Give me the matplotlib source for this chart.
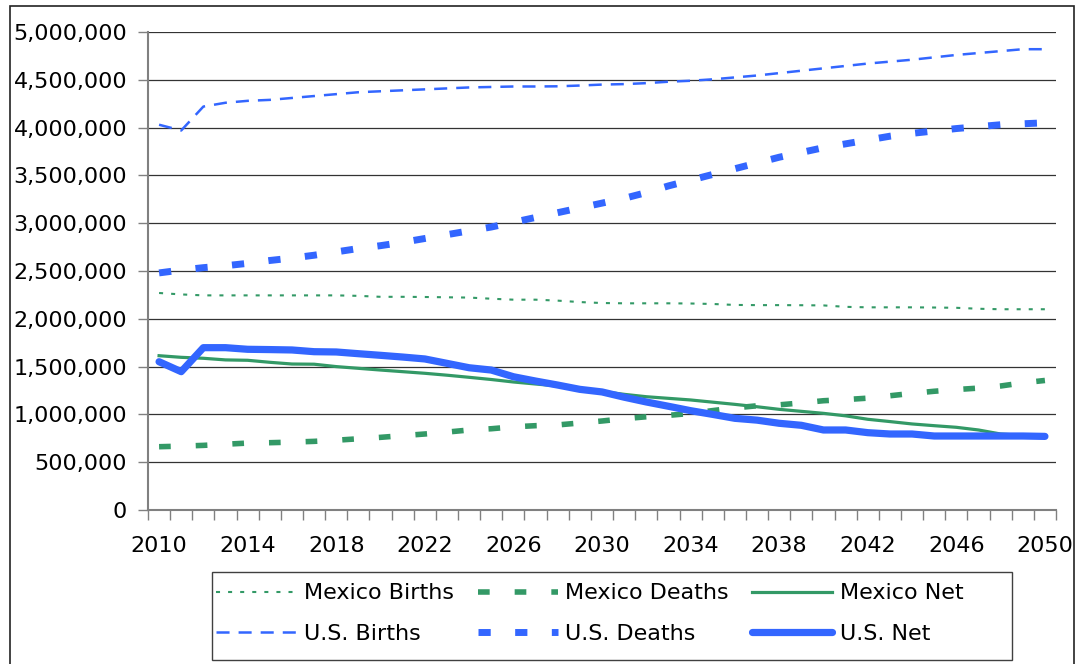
import matplotlib
matplotlib.use("Agg")
import matplotlib.pyplot as plt
from matplotlib.patches import Rectangle
from matplotlib.ticker import FuncFormatter, FixedLocator
import numpy as np

plt.rcParams['font.family'] = ['DejaVu Sans']
plt.rcParams['lines.scale_dashes'] = False

years = list(range(2010, 2051))

mexico_births = [2270000, 2255000, 2245000, 2245000, 2245000, 2245000, 2245000, 2245000,
                 2245000, 2240000, 2230000, 2230000, 2228000, 2225000, 2222000, 2210000,
                 2200000, 2200000, 2190000, 2175000, 2165000, 2162000, 2162000, 2162000,
                 2160000, 2155000, 2145000, 2143000, 2143000, 2142000, 2140000, 2125000,
                 2120000, 2120000, 2120000, 2118000, 2115000, 2105000, 2100000, 2100000,
                 2100000]
mexico_deaths = [662000, 668000, 676000, 688000, 700000, 704000, 710000, 718000,
                 730000, 745000, 760000, 778000, 795000, 815000, 837000, 850000,
                 870000, 882000, 890000, 910000, 931000, 955000, 975000, 990000,
                 1010000, 1040000, 1068000, 1090000, 1100000, 1120000, 1143000, 1155000,
                 1170000, 1195000, 1220000, 1242000, 1260000, 1275000, 1297000, 1330000,
                 1355000]
mexico_net = [1614000, 1597000, 1587000, 1570000, 1566000, 1545000, 1527000, 1525000,
              1500000, 1482000, 1464000, 1447000, 1430000, 1410000, 1388000, 1365000,
              1339000, 1318000, 1297000, 1270000, 1240000, 1210000, 1185000, 1168000,
              1151000, 1128000, 1105000, 1080000, 1053000, 1032000, 1011000, 985000,
              949000, 925000, 900000, 882000, 865000, 837000, 795000, 780000,
              767000]
us_births = [4030000, 3970000, 4220000, 4260000, 4280000, 4290000, 4310000, 4330000,
             4350000, 4370000, 4380000, 4390000, 4400000, 4410000, 4420000, 4425000,
             4430000, 4430000, 4432000, 4440000, 4450000, 4455000, 4465000, 4480000,
             4490000, 4505000, 4525000, 4545000, 4570000, 4595000, 4620000, 4645000,
             4670000, 4690000, 4710000, 4735000, 4760000, 4780000, 4800000, 4820000,
             4820000]
us_deaths = [2480000, 2510000, 2535000, 2555000, 2580000, 2610000, 2635000, 2665000,
             2700000, 2735000, 2765000, 2800000, 2840000, 2880000, 2920000, 2960000,
             3010000, 3060000, 3110000, 3160000, 3210000, 3260000, 3320000, 3390000,
             3450000, 3510000, 3570000, 3630000, 3690000, 3740000, 3790000, 3830000,
             3870000, 3910000, 3940000, 3965000, 3990000, 4010000, 4030000, 4040000,
             4050000]
us_net = [1551000, 1447000, 1698000, 1698000, 1681000, 1678000, 1674000, 1656000,
          1653000, 1635000, 1618000, 1600000, 1580000, 1534000, 1488000, 1464000,
          1394000, 1349000, 1307000, 1262000, 1235000, 1180000, 1130000, 1085000,
          1039000, 1000000, 959000, 940000, 907000, 886000, 837000, 837000,
          809000, 795000, 795000, 774000, 774000, 774000, 774000, 774000,
          770000]

green = "#339966"
blue = "#3366FF"

W, H = 1081, 664
fig = plt.figure(figsize=(W / 100, H / 100), dpi=100)
ax = fig.add_axes([148 / W, 1 - 510 / H, (1056 - 148) / W, (510 - 32) / H])

x = np.arange(len(years))

l_mb, = ax.plot(x, mexico_births, color=green, lw=1.5, dashes=(2.9, 5.8),
                dash_capstyle='butt', label="Mexico Births")
l_md, = ax.plot(x, mexico_deaths, color=green, lw=4.0, dashes=(8.4, 18.0),
                dash_capstyle='butt', label="Mexico Deaths")
l_mn, = ax.plot(x, mexico_net, color=green, lw=2.3, label="Mexico Net")
l_ub, = ax.plot(x, us_births, color=blue, lw=1.8, dashes=(9.4, 6.5),
                dash_capstyle='butt', label="U.S. Births")
l_ud, = ax.plot(x, us_deaths, color=blue, lw=5.0, dashes=(8.8, 17.6),
                dash_capstyle='butt', label="U.S. Deaths")
l_un, = ax.plot(x, us_net, color=blue, lw=5.2, solid_capstyle='round',
                solid_joinstyle='round', label="U.S. Net")

ax.set_xlim(-0.5, len(years) - 0.5)
ax.set_ylim(0, 5000000)

# y axis
ax.set_yticks(np.arange(0, 5000001, 500000))
ax.yaxis.set_major_formatter(FuncFormatter(lambda v, p: f"{int(v):,}"))
ax.tick_params(axis='y', length=7, width=1, color='#808080', pad=8, labelsize=16)
ax.yaxis.grid(True, color='#333333', lw=0.9)
ax.set_axisbelow(True)

# x axis: ticks between categories, labels every 4 years
ax.xaxis.set_major_locator(FixedLocator(np.arange(-0.5, len(years), 1.0)))
ax.xaxis.set_major_formatter(FuncFormatter(lambda v, p: ""))
ax.xaxis.set_minor_locator(FixedLocator(x[::4]))
ax.set_xticklabels([str(y) for y in years[::4]], minor=True)
ax.tick_params(axis='x', which='major', length=7, width=1, color='#808080')
ax.tick_params(axis='x', which='minor', length=0, pad=19, labelsize=16)

for side in ['top', 'right']:
    ax.spines[side].set_visible(False)
for side in ['left', 'bottom']:
    ax.spines[side].set_color('#808080')
    ax.spines[side].set_linewidth(1.5)

# legend, filled column by column; frame drawn separately
handles = [l_mb, l_ub, l_md, l_ud, l_mn, l_un]
leg = fig.legend(handles=handles, labels=[h.get_label() for h in handles],
                 ncol=3, loc='upper left',
                 bbox_to_anchor=(212 / W, 1 - 579 / H),
                 fontsize=16, frameon=False,
                 handlelength=3.6, handletextpad=0.35, labelspacing=0.92,
                 borderpad=0.2, columnspacing=1.05, borderaxespad=0)
fig.patches.append(Rectangle((212 / W, 1 - 660 / H), 800 / W, 88 / H,
                             transform=fig.transFigure, fill=False,
                             edgecolor='#404040', lw=1.0))

# outer chart border
fig.patches.append(Rectangle((10 / W, -0.02), (1074 - 10) / W, 1 - 6 / H + 0.02,
                             transform=fig.transFigure, fill=False,
                             edgecolor='#222222', lw=1.2))

fig.savefig("out.png", dpi=100)
